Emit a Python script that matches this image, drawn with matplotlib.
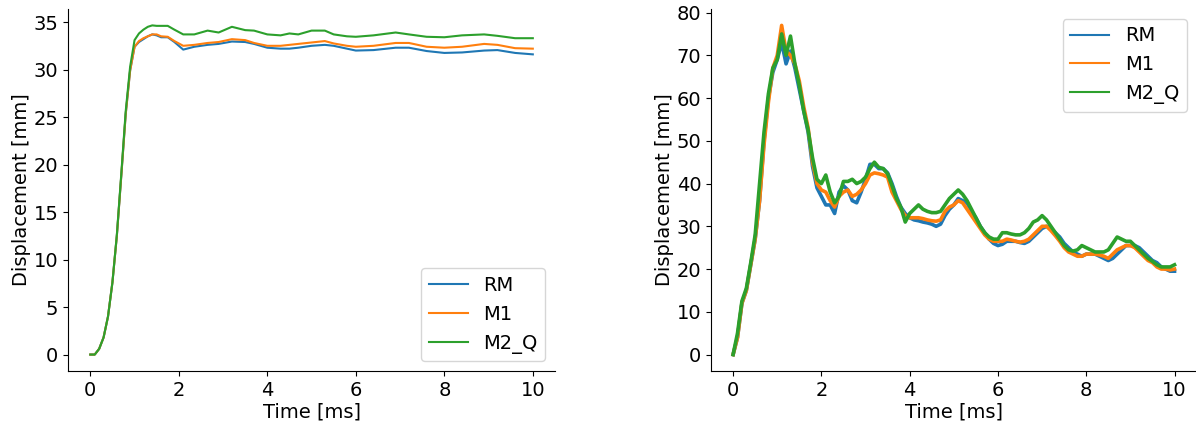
import numpy as np
import matplotlib
matplotlib.use("Agg")
import matplotlib.pyplot as plt

matplotlib.rcParams.update({
    'font.family': 'DejaVu Sans',
    'font.size': 14,
})

labels = ['RM', 'M1', 'M2_Q']

# gauche : deplacement lisse
t_left = [0.0, 0.1, 0.2, 0.3, 0.4, 0.5, 0.6, 0.7, 0.8, 0.9, 1.0, 1.1, 1.2, 1.3, 1.4,
          1.5, 1.6, 1.75, 1.9, 2.1, 2.35, 2.65, 2.9, 3.2, 3.5, 3.7, 4.0, 4.3, 4.5,
          4.7, 5.0, 5.3, 5.5, 5.8, 6.0, 6.4, 6.9, 7.2, 7.6, 8.0, 8.4, 8.9, 9.2,
          9.6, 10.0]
rm_left = [0, 0, 0.6, 1.8, 4.0, 7.6, 12.5, 18.8, 25.3, 29.9, 32.4, 32.9, 33.2, 33.5, 33.7,
           33.6, 33.4, 33.4, 32.9, 32.1, 32.4, 32.6, 32.7, 32.95, 32.9, 32.7, 32.3, 32.2, 32.2,
           32.3, 32.5, 32.6, 32.5, 32.2, 32.0, 32.05, 32.3, 32.3, 31.95, 31.75, 31.8, 32.0, 32.05,
           31.75, 31.6]
m1_left = [0, 0, 0.6, 1.8, 4.0, 7.6, 12.5, 18.8, 25.3, 29.9, 32.4, 33.0, 33.3, 33.5, 33.7,
           33.7, 33.5, 33.45, 33.0, 32.5, 32.6, 32.8, 32.9, 33.2, 33.1, 32.8, 32.5, 32.5, 32.6,
           32.7, 32.85, 33.0, 32.75, 32.5, 32.4, 32.5, 32.8, 32.8, 32.4, 32.3, 32.4, 32.7, 32.6,
           32.25, 32.2]
m2_left = [0, 0, 0.6, 1.8, 4.0, 7.6, 12.6, 19.0, 25.6, 30.3, 33.1, 33.8, 34.2, 34.5, 34.65,
           34.6, 34.6, 34.6, 34.2, 33.7, 33.7, 34.1, 33.9, 34.5, 34.15, 34.1, 33.7, 33.6, 33.8,
           33.7, 34.1, 34.1, 33.7, 33.5, 33.45, 33.6, 33.9, 33.7, 33.45, 33.4, 33.6, 33.7, 33.55,
           33.3, 33.3]

# droite : deplacement bruite (pas de 0.1 ms)
t_right = np.linspace(0, 10, 101)
rm_right = [0, 4, 12, 15, 21, 27, 36, 50, 60, 66,
            69, 73, 68, 71, 67, 62, 57, 52, 44, 39,
            37, 35, 35, 33, 38, 39.5, 38.5, 36, 35.5, 38,
            41, 44.5, 44.5, 43.5, 43.5, 42.5, 40, 37, 34.5, 33,
            32, 31.5, 31.3, 31, 30.8, 30.5, 30, 30.5, 32.5, 34,
            35, 36.5, 36, 35.5, 33.5, 32, 30, 28.5, 27, 26,
            25.5, 25.8, 26.5, 26.5, 26.5, 26.2, 26, 26.5, 27.5, 28.5,
            29.5, 30, 29.5, 28.5, 27.5, 26, 25, 24, 23.5, 23,
            23.5, 23.5, 23.5, 23, 22.5, 22, 22.5, 23.5, 24.5, 25.5,
            25.5, 25.5, 25, 24, 23, 22, 21.5, 20.5, 20, 19.5,
            19.5]
m1_right = [0, 4, 12, 15, 21, 27, 36, 49, 59, 67,
            70, 77, 71, 70, 68, 64, 58, 53, 45, 40,
            38.5, 38, 36, 34.5, 37, 38, 38.5, 37, 37.5, 38.5,
            40, 42, 42.5, 42.3, 42, 41.5, 38, 36, 34, 32.5,
            32, 32, 32, 31.8, 31.5, 31.3, 31.2, 31.5, 33.5, 34.5,
            35, 36, 35.5, 34, 32.5, 31, 29.5, 28, 27, 26.5,
            26.5, 26.5, 27, 26.8, 26.5, 26.3, 26.5, 27, 28, 29,
            30, 30, 29, 27.8, 26.5, 25, 24, 23.5, 23, 23,
            23.5, 23.5, 23.5, 23.3, 23, 22.5, 23.5, 24.5, 25, 25.5,
            25.5, 25, 24, 23, 22, 21.5, 20.5, 20, 20, 19.8,
            20]
m2_right = [0, 5, 12.5, 15.5, 21.5, 28, 40, 52, 61, 67,
            69, 75, 70, 74.5, 68, 63, 57, 52.5, 46, 41,
            40, 42, 38, 35.5, 37, 40.5, 40.5, 41, 40, 40.5,
            41.5, 43.5, 45, 43.8, 43.5, 42.3, 39.5, 36.5, 34.5, 31,
            33, 34, 35, 34, 33.5, 33.2, 33.2, 33.5, 35, 36.5,
            37.5, 38.5, 37.5, 36, 34, 32, 30, 28.5, 27.5, 27,
            27, 28.5, 28.5, 28.2, 28, 28, 28.5, 29.5, 31, 31.5,
            32.5, 31.5, 30, 28.5, 27, 25.5, 24.5, 24.2, 24.5, 25.5,
            25, 24.5, 24, 24, 24, 24.5, 26, 27.5, 27, 26.5,
            26.5, 25.5, 24.5, 23.5, 22.5, 21.8, 21, 20.5, 20.5, 20.5,
            21]

fig = plt.figure(figsize=(11.96, 4.25), dpi=100)
ax1 = fig.add_axes([0.057, 0.127, 0.407, 0.852])
ax2 = fig.add_axes([0.5945, 0.127, 0.406, 0.852])

for y, lab in zip([rm_left, m1_left, m2_left], labels):
    ax1.plot(t_left, y, label=lab, lw=1.5)
for y, lab in zip([rm_right, m1_right, m2_right], labels):
    ax2.plot(t_right, y, label=lab, lw=2.6)

ax1.legend(loc='lower right')
leg2 = ax2.legend(loc='upper right')
for h in leg2.get_lines():
    h.set_linewidth(1.5)

for ax in (ax1, ax2):
    ax.set_xlabel('Time [ms]', labelpad=2)
    ax.set_ylabel('Displacement [mm]', labelpad=2)
    ax.spines['top'].set_visible(False)
    ax.spines['right'].set_visible(False)
    ax.set_xticks([0, 2, 4, 6, 8, 10])

plt.savefig('out.png')
